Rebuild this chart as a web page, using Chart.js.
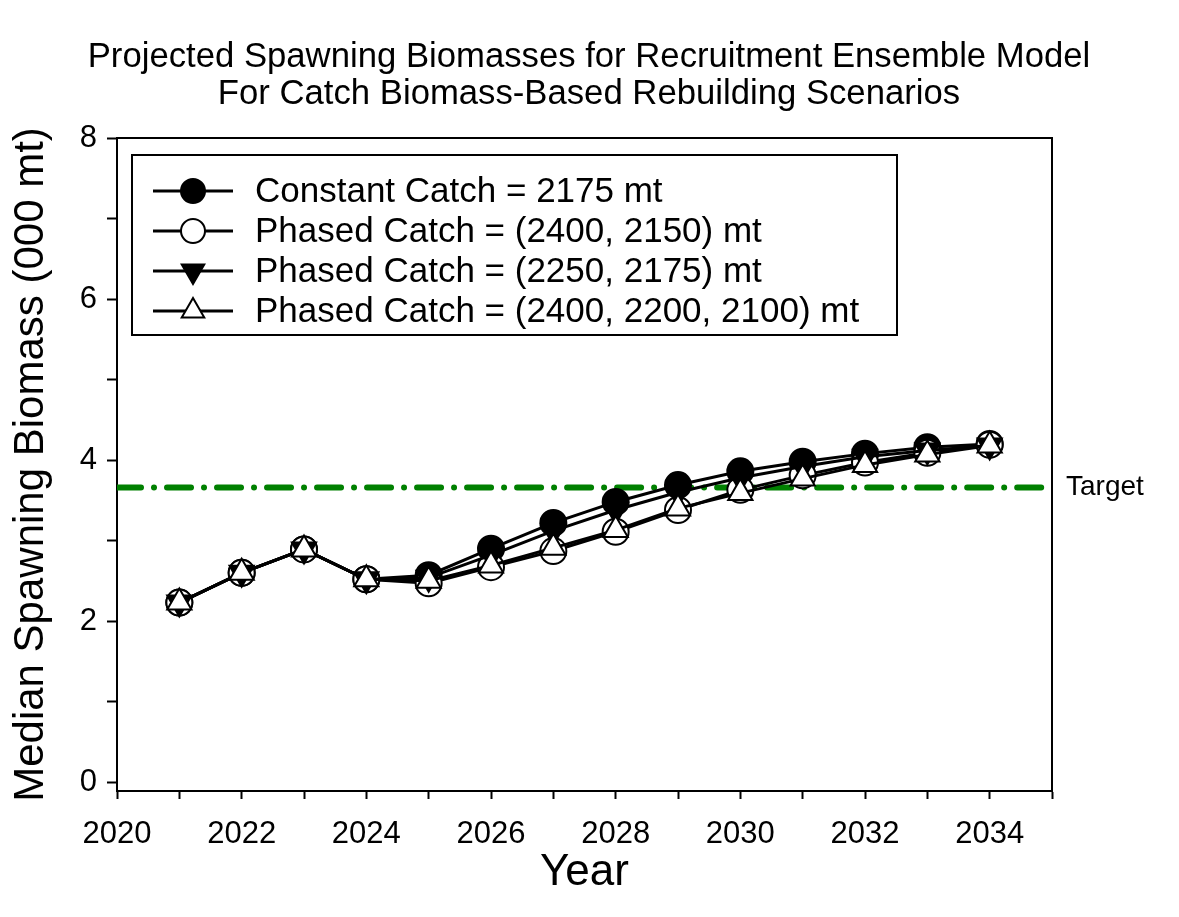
<!DOCTYPE html>
<html>
<head>
<meta charset="utf-8">
<script src="https://cdn.jsdelivr.net/npm/chart.js@4.4.1/dist/chart.umd.min.js"></script>
<style>
  html, body { margin: 0; padding: 0; background: #fff; }
  #wrap { width: 1179px; height: 917px; position: relative; }
</style>
</head>
<body>
<div id="wrap"><canvas id="c" width="1179" height="917"></canvas></div>
<script>
// ---- Data ----
const years = [2021, 2022, 2023, 2024, 2025, 2026, 2027, 2028, 2029, 2030, 2031, 2032, 2033, 2034];
const constantCatch2175 = [2.23, 2.60, 2.89, 2.52, 2.57, 2.90, 3.22, 3.48, 3.69, 3.86, 3.98, 4.08, 4.16, 4.20];
const phased2400_2150 = [2.23, 2.60, 2.89, 2.52, 2.47, 2.67, 2.87, 3.11, 3.38, 3.63, 3.81, 3.97, 4.09, 4.19];
const phased2250_2175 = [2.23, 2.60, 2.89, 2.52, 2.54, 2.82, 3.12, 3.38, 3.60, 3.78, 3.92, 4.04, 4.12, 4.18];
const phased2400_2200_2100 = [2.23, 2.60, 2.89, 2.52, 2.50, 2.69, 2.91, 3.13, 3.40, 3.59, 3.77, 3.94, 4.07, 4.18];
const targetValue = 3.66;
const targetSpan = [2020, 2035];
const seriesNames = [
  'Constant Catch = 2175 mt',
  'Phased Catch = (2400, 2150) mt',
  'Phased Catch = (2250, 2175) mt',
  'Phased Catch = (2400, 2200, 2100) mt'
];
const xTicks = [2020, 2021, 2022, 2023, 2024, 2025, 2026, 2027, 2028, 2029, 2030, 2031, 2032, 2033, 2034, 2035];
const xTickLabels = ['2020', '', '2022', '', '2024', '', '2026', '', '2028', '', '2030', '', '2032', '', '2034', ''];
const yTicks = [0, 1, 2, 3, 4, 5, 6, 7, 8];
const yTickLabels = ['0', '', '2', '', '4', '', '6', '', '8'];
const titleLines = ['Projected Spawning Biomasses for Recruitment Ensemble Model', 'For Catch Biomass-Based Rebuilding Scenarios'];
const xTitle = 'Year';
const yTitle = 'Median Spawning Biomass (000 mt)';
const targetLabel = 'Target';

const FONT = '"Liberation Sans", Arial, Helvetica, sans-serif';
const toXY = (vals) => years.map((y, i) => ({ x: y, y: vals[i] }));

const styles = [
  { pointStyle: 'circle', rotation: 0, bg: '#000', r: 13 },
  { pointStyle: 'circle', rotation: 0, bg: '#fff', r: 13 },
  { pointStyle: 'triangle', rotation: 180, bg: '#000', r: 14 },
  { pointStyle: 'triangle', rotation: 0, bg: '#fff', r: 14 }
];
const seriesData = [constantCatch2175, phased2400_2150, phased2250_2175, phased2400_2200_2100];

const datasets = seriesData.map((vals, i) => ({
  label: seriesNames[i],
  data: toXY(vals),
  borderColor: '#000',
  borderWidth: 3,
  pointStyle: styles[i].pointStyle,
  rotation: styles[i].rotation,
  pointRadius: styles[i].r,
  pointBackgroundColor: styles[i].bg,
  pointBorderColor: '#000',
  pointBorderWidth: 2,
  fill: false,
  tension: 0,
  order: 3 - i
}));
datasets.push({
  label: targetLabel,
  data: targetSpan.map(x => ({ x: x, y: targetValue })),
  borderColor: '#008000',
  borderWidth: 6,
  borderDash: [24, 13, 0.01, 13],
  borderCapStyle: 'round',
  pointRadius: 0,
  fill: false,
  order: 10
});

function drawMarker(ctx, st, x, y, r) {
  ctx.fillStyle = st.bg;
  ctx.strokeStyle = '#000';
  ctx.lineWidth = 2;
  ctx.beginPath();
  if (st.pointStyle === 'circle') {
    ctx.arc(x, y, r, 0, Math.PI * 2);
  } else {
    let rad = st.rotation * Math.PI / 180;
    ctx.moveTo(x + Math.sin(rad) * r, y - Math.cos(rad) * r);
    rad += 2 * Math.PI / 3;
    ctx.lineTo(x + Math.sin(rad) * r, y - Math.cos(rad) * r);
    rad += 2 * Math.PI / 3;
    ctx.lineTo(x + Math.sin(rad) * r, y - Math.cos(rad) * r);
    ctx.closePath();
  }
  ctx.fill();
  ctx.stroke();
}

const decor = {
  id: 'decor',
  afterDraw(chart) {
    const ctx = chart.ctx;
    const a = chart.chartArea;
    ctx.save();
    // frame top & right
    ctx.strokeStyle = '#000';
    ctx.lineWidth = 2;
    ctx.beginPath();
    ctx.moveTo(a.left, a.top);
    ctx.lineTo(a.right, a.top);
    ctx.lineTo(a.right, a.bottom);
    ctx.stroke();

    // title
    ctx.fillStyle = '#000';
    ctx.textAlign = 'center';
    ctx.textBaseline = 'alphabetic';
    ctx.font = '34.7px ' + FONT;
    ctx.fillText(titleLines[0], 589, 67);
    ctx.fillText(titleLines[1], 589, 104);

    // x title
    ctx.font = '44px ' + FONT;
    ctx.textBaseline = 'middle';
    ctx.fillText(xTitle, (a.left + a.right) / 2, 873);
    // y title
    ctx.save();
    ctx.font = '42px ' + FONT;
    ctx.translate(31, (a.top + a.bottom) / 2);
    ctx.rotate(-Math.PI / 2);
    ctx.fillText(yTitle, 0, 0);
    ctx.restore();

    // Target label
    const ys = chart.scales.y;
    ctx.font = '28px ' + FONT;
    ctx.textAlign = 'left';
    ctx.fillText(targetLabel, 1066, ys.getPixelForValue(targetValue));

    // legend
    const bx = 132, by = 155, bw = 765, bh = 180;
    ctx.fillStyle = '#fff';
    ctx.fillRect(bx, by, bw, bh);
    ctx.strokeStyle = '#000';
    ctx.lineWidth = 2;
    ctx.strokeRect(bx, by, bw, bh);
    const rowY = [191, 231, 271, 311];
    for (let i = 0; i < 4; i++) {
      const y = rowY[i];
      ctx.strokeStyle = '#000';
      ctx.lineWidth = 3;
      ctx.beginPath();
      ctx.moveTo(153, y);
      ctx.lineTo(233, y);
      ctx.stroke();
      drawMarker(ctx, styles[i], 193, y, styles[i].r - 1);
      ctx.fillStyle = '#000';
      ctx.font = '35px ' + FONT;
      ctx.textAlign = 'left';
      ctx.textBaseline = 'middle';
      ctx.fillText(seriesNames[i], 255, y + 1);
    }
    ctx.restore();
  }
};

new Chart(document.getElementById('c'), {
  type: 'line',
  data: { datasets: datasets },
  options: {
    responsive: false,
    animation: false,
    devicePixelRatio: 1,
    layout: { padding: { left: 0, top: 138, right: 127, bottom: 0 } },
    plugins: { legend: { display: false }, tooltip: { enabled: false }, title: { display: false } },
    scales: {
      x: {
        type: 'linear',
        min: 2020, max: 2035,
        afterBuildTicks: (s) => { s.ticks = xTicks.map(v => ({ value: v })); },
        afterFit: (s) => { s.height = 126; },
        ticks: {
          autoSkip: false, maxRotation: 0,
          callback: (v) => xTickLabels[xTicks.indexOf(v)],
          font: { family: FONT, size: 31 }, color: '#000', padding: 17
        },
        grid: { drawOnChartArea: false, drawTicks: true, tickLength: 8, tickWidth: 2, tickColor: '#000' },
        border: { display: true, color: '#000', width: 2 }
      },
      y: {
        type: 'linear',
        min: -0.11, max: 8,
        afterBuildTicks: (s) => { s.ticks = yTicks.map(v => ({ value: v })); },
        afterFit: (s) => { s.width = 117; },
        ticks: {
          autoSkip: false,
          callback: (v) => yTickLabels[yTicks.indexOf(v)],
          font: { family: FONT, size: 31 }, color: '#000', padding: 10
        },
        grid: { drawOnChartArea: false, drawTicks: true, tickLength: 10, tickWidth: 2, tickColor: '#000' },
        border: { display: true, color: '#000', width: 2 }
      }
    }
  },
  plugins: [decor]
});
</script>
</body>
</html>
